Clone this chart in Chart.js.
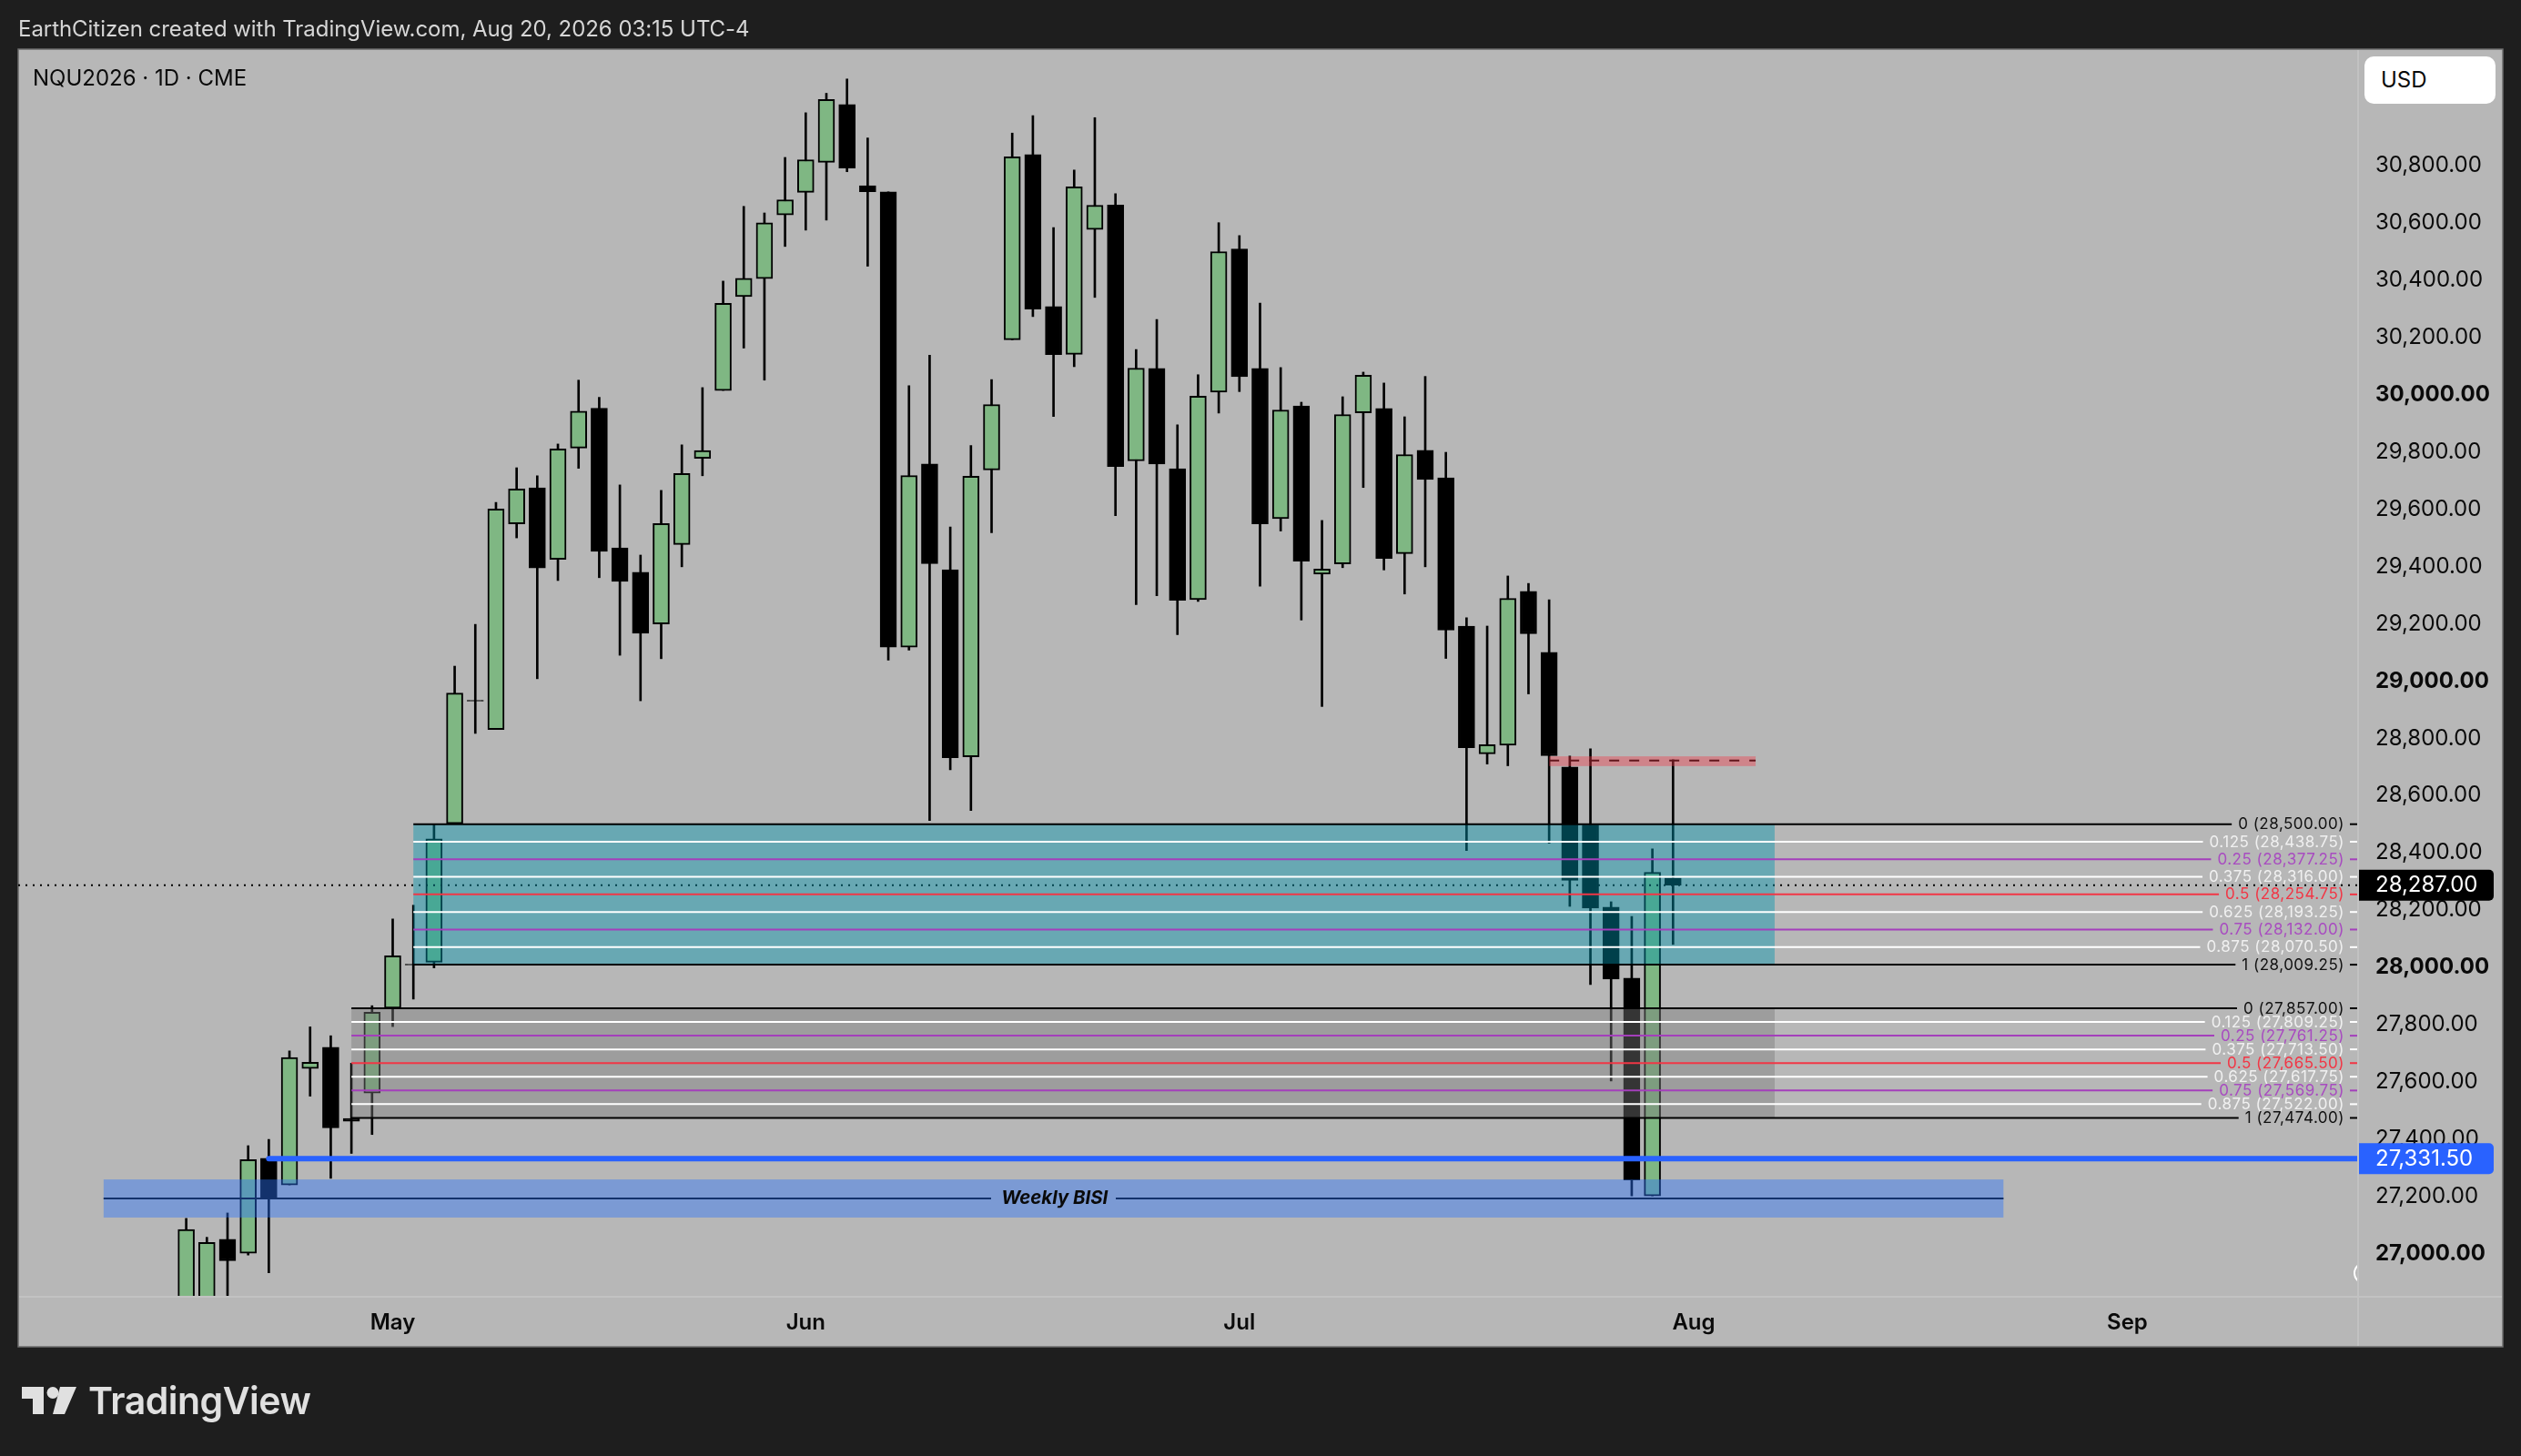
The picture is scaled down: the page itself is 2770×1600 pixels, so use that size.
<!DOCTYPE html>
<html>
<head>
<meta charset="utf-8">
<title>NQU2026 1D</title>
<script src="https://cdn.jsdelivr.net/npm/chart.js@4/dist/chart.umd.min.js"></script>
<style>
  html, body { margin: 0; padding: 0; background: #1e1e1e; }
  #wrap { position: relative; width: 2770px; height: 1600px; overflow: hidden; font-family: Inter, sans-serif; }
  #wrap div { position: absolute; white-space: nowrap; }
  #credit { left: 20px; top: 16px; font-size: 24px; line-height: 32px; color: #d6d6d6; letter-spacing: -0.05px; }
  #symbol { left: 36px; top: 70px; font-size: 24px; line-height: 32px; color: #0a0a0a; }
  #usd { left: 2598px; top: 62px; width: 144px; height: 52px; background: #fff; border-radius: 10px; font-size: 24px; line-height: 52px; color: #0a0a0a; text-indent: 18px; }
  #brand { left: 97px; top: 1513px; font-size: 41px; line-height: 52px; font-weight: 600; color: #e0e0e0; letter-spacing: -0.5px; }
  #logo { position: absolute; left: 24px; top: 1524px; }
</style>
</head>
<body>
<div id="wrap">
  <canvas id="chart" width="2770" height="1600"></canvas>
  <div id="credit">EarthCitizen created with TradingView.com, Aug 20, 2026 03:15 UTC-4</div>
  <div id="symbol">NQU2026 · 1D · CME</div>
  <div id="usd">USD</div>
  <svg id="logo" width="62" height="30" viewBox="0 0 62 30">
    <path d="M0 0H24V30H12V13H0Z M42 0H60L47 30H34Z" fill="#e0e0e0"/>
    <circle cx="34" cy="6.5" r="6.5" fill="#e0e0e0"/>
  </svg>
  <div id="brand">TradingView</div>
</div>
<script>
// daily candles, first one is bar 0, May 1 is bar 10
const opens = [26700,26740,27050,27001,27333,27240,27647,27721,27472,27561,27857,28011,28018,28502,28933,28831,29549,29675,29425,29814,29953,29465,29380,29199,29477,29778,30015,30343,30406,30628,30707,30812,31014,30730,30709,29118,29758,29389,28735,29737,30192,30839,30308,30141,30577,30663,29769,30092,29742,29284,30009,30509,30092,29567,29961,29373,29409,29937,29952,29445,29806,29710,29192,28746,28776,29313,29100,28700,28497,28210,27962,27202,28312];
const highs = [27123,27057,27142,27377,27399,27708,27792,27761,27665,27866,28169,28217,28499,29052,29198,29624,29745,29717,29828,30051,29991,29685,29440,29666,29825,30025,30397,30658,30635,30829,30985,31053,31103,30897,30709,30032,30138,29538,29823,30053,30914,30975,30584,30785,30968,30702,30158,30263,29895,30070,30601,30556,30320,30095,29974,29561,29993,30079,30041,29923,30064,29799,29221,29192,29367,29341,29284,28738,28763,28229,28178,28414,28725];
const lows = [26650,26690,26760,26995,26933,27240,27550,27263,27350,27416,27793,27889,27998,28502,28817,28831,29500,29008,29351,29743,29361,29090,28931,29078,29399,29717,30015,30163,30051,30518,30575,30610,30779,30449,29073,29108,28513,28690,28548,29518,30192,30273,29924,30098,30340,29578,29267,29298,29162,29278,29936,30011,29331,29524,29213,28911,29396,29676,29388,29304,29399,29079,28408,28710,28704,28955,28433,28213,27940,27603,27202,27202,28080];
const closes = [27084,27039,26975,27328,27196,27685,27668,27439,27462,27843,28040,28008,28449,28958,28930,29601,29671,29395,29811,29943,29453,29348,29167,29550,29725,29805,30319,30407,30601,30681,30821,31031,30792,30709,29118,29718,29410,28732,29715,29966,30831,30299,30140,30726,30662,29749,30093,29758,29282,29995,30500,30063,29549,29947,29419,29391,29931,30068,29428,29791,29704,29178,28767,28778,29289,29165,28739,28304,28207,27959,27257,28332,28287];

const priceTicks = [27000,27200,27400,27600,27800,28000,28200,28400,28600,28800,29000,29200,29400,29600,29800,30000,30200,30400,30600,30800];
const monthBars = [10,30,51,73,94];
const monthNames = ['May','Jun','Jul','Aug','Sep'];

const fibRatios = ['0','0.125','0.25','0.375','0.5','0.625','0.75','0.875','1'];
const fibUpper = [28500,28438.75,28377.25,28316,28254.75,28193.25,28132,28070.5,28009.25];
const fibLower = [27857,27809.25,27761.25,27713.5,27665.5,27617.75,27569.75,27522,27474];
const fibUpperStart = 11, fibLowerStart = 8, fibEnd = 76.92;

const lastPrice = 28287;
const bluePrice = 27331.5, blueStart = 4;
const bisiTop = 27259, bisiBottom = 27126, bisiMid = 27193, bisiStart = -4, bisiEnd = 88;
const redTop = 28737, redBottom = 28703, redMid = 28722, redStart = 66, redEnd = 76;

const fibColors = ['#000000','#ffffff','#a43fbb','#ffffff','#f23645','#ffffff','#a43fbb','#ffffff','#000000'];
const fibTextColors = ['#111111','#f0f0f0','#a84cc0','#f0f0f0','#f23645','#f0f0f0','#a84cc0','#f0f0f0','#111111'];
const GREEN = '#7fb783';
const FONT = 'Inter, sans-serif';

const bars = opens.map((_, i) => i);
const fmt = v => v.toLocaleString('en-US', {minimumFractionDigits: 2, maximumFractionDigits: 2});

const overlays = {
    id: 'overlays',
    beforeDraw(chart) {
        const c = chart.ctx, a = chart.chartArea;
        c.save();
        c.fillStyle = '#b7b7b7';
        c.fillRect(20, 54, 2730, 1426);
        c.strokeStyle = '#6c6c6c';
        c.lineWidth = 1.5;
        c.strokeRect(20, 54, 2730, 1426);
        c.fillStyle = '#c2c2c2';
        c.fillRect(a.right, 55, 2, 1424);
        c.fillRect(21, a.bottom, 2728, 2);
        c.restore();
    },
    afterDatasetsDraw(chart) {
        const c = chart.ctx, a = chart.chartArea;
        const X = chart.scales.x, Y = chart.scales.y;
        const px = v => X.getPixelForValue(v), py = v => Y.getPixelForValue(v);
        const hline = (v, x0, x1, col, w) => {
            c.strokeStyle = col; c.lineWidth = w;
            c.beginPath(); c.moveTo(x0, py(v)); c.lineTo(x1, py(v)); c.stroke();
        };
        const box = (top, bottom, x0, x1, col) => {
            c.fillStyle = col;
            c.fillRect(px(x0), py(top), px(x1) - px(x0), py(bottom) - py(top));
        };

        c.save();
        c.beginPath(); c.rect(a.left, a.top, a.right - a.left, a.bottom - a.top); c.clip();

        // last price, sits under the zones
        c.setLineDash([2, 6]);
        hline(lastPrice, a.left, a.right, '#000', 2);
        c.setLineDash([]);

        // weekly BISI
        hline(bisiMid, px(bisiStart), 1089, '#000', 2);
        hline(bisiMid, 1226, px(bisiEnd), '#000', 2);
        box(bisiTop, bisiBottom, bisiStart, bisiEnd, 'rgba(45,115,250,0.43)');
        c.font = 'italic 700 20.4px ' + FONT;
        c.fillStyle = '#0a0a0a';
        c.textAlign = 'center'; c.textBaseline = 'middle';
        c.fillText('Weekly BISI', 1158.7, py(bisiMid));

        // red block
        c.setLineDash([11, 11]);
        hline(redMid, px(redStart), px(redEnd), '#000', 2);
        c.setLineDash([]);
        box(redTop, redBottom, redStart, redEnd, 'rgba(242,54,69,0.4)');

        // fib boxes
        box(fibUpper[0], fibUpper[8], fibUpperStart, fibEnd, 'rgba(0,149,174,0.43)');
        box(fibLower[0], fibLower[8], fibLowerStart, fibEnd, 'rgba(123,123,123,0.43)');

        c.font = '400 17px ' + FONT;
        c.letterSpacing = '0.5px';
        c.textAlign = 'right';
        const drawFib = (levels, start) => levels.forEach((v, i) => {
            const txt = fibRatios[i] + ' (' + fmt(v) + ')';
            const end = 2576 - c.measureText(txt).width - 7;
            hline(v, px(start), end, fibColors[i], 2);
            hline(v, 2582, a.right, fibColors[i], 2);
            c.fillStyle = fibTextColors[i];
            c.fillText(txt, 2576, py(v) + 0.5);
        });
        drawFib(fibUpper, fibUpperStart);
        drawFib(fibLower, fibLowerStart);
        c.letterSpacing = '0px';

        // blue level
        c.lineCap = 'round';
        hline(bluePrice, px(blueStart), a.right + 6, '#2962ff', 6);
        c.lineCap = 'butt';

        // clipped white ring at the right edge
        c.strokeStyle = '#ffffff'; c.lineWidth = 2;
        c.beginPath(); c.arc(2598, 1399, 11, 0, Math.PI * 2); c.stroke();
        c.restore();

        // price labels on the axis
        const tag = (v, bg) => {
            const y = py(v);
            c.fillStyle = bg;
            c.beginPath(); c.roundRect(2592, y - 17, 148, 34, [0, 5, 5, 0]); c.fill();
            c.fillStyle = '#ffffff';
            c.font = '400 24px ' + FONT;
            c.textAlign = 'left'; c.textBaseline = 'middle';
            c.fillText(fmt(v), 2610, y);
        };
        c.save();
        tag(lastPrice, '#000000');
        tag(bluePrice, '#2962ff');
        c.restore();
    }
};

new Chart(document.getElementById('chart').getContext('2d'), {
    type: 'bar',
    data: {
        datasets: [
            {
                label: 'body',
                order: 1,
                grouped: false,
                barThickness: 18,
                data: bars.map(i => ({x: i, y: [opens[i], closes[i]]})),
                backgroundColor: bars.map(i => closes[i] > opens[i] ? GREEN : '#000000'),
                borderColor: '#000000',
                borderWidth: 2,
                borderSkipped: false
            },
            {
                label: 'wick',
                order: 2,
                grouped: false,
                barThickness: 2,
                data: bars.map(i => ({x: i, y: [lows[i], highs[i]]})),
                backgroundColor: '#000000',
                borderWidth: 0
            }
        ]
    },
    options: {
        responsive: false,
        animation: false,
        devicePixelRatio: 1,
        layout: { padding: { left: 20, right: 20, top: 54, bottom: 120 } },
        plugins: { legend: { display: false }, tooltip: { enabled: false } },
        events: [],
        scales: {
            x: {
                type: 'linear',
                offset: false,
                min: -8.136,
                max: 105.13,
                grid: { display: false, drawTicks: false },
                border: { display: false },
                afterFit: s => { s.height = 56; },
                afterBuildTicks: s => { s.ticks = monthBars.map(v => ({value: v})); },
                ticks: {
                    autoSkip: false,
                    maxRotation: 0,
                    padding: 15,
                    color: '#0a0a0a',
                    font: { family: FONT, size: 24, weight: '600' },
                    callback: v => monthNames[monthBars.indexOf(v)]
                }
            },
            y: {
                position: 'right',
                min: 26852.5,
                max: 31207.2,
                grid: { display: false, drawTicks: false },
                border: { display: false },
                afterFit: s => { s.width = 160; },
                afterBuildTicks: s => { s.ticks = priceTicks.map(v => ({value: v})); },
                ticks: {
                    autoSkip: false,
                    crossAlign: 'near',
                    padding: 20,
                    color: '#0a0a0a',
                    font: ctx => ({ family: FONT, size: 24, weight: ctx.tick && ctx.tick.value % 1000 === 0 ? '700' : '400' }),
                    callback: fmt
                }
            }
        }
    },
    plugins: [overlays]
});
</script>
</body>
</html>
